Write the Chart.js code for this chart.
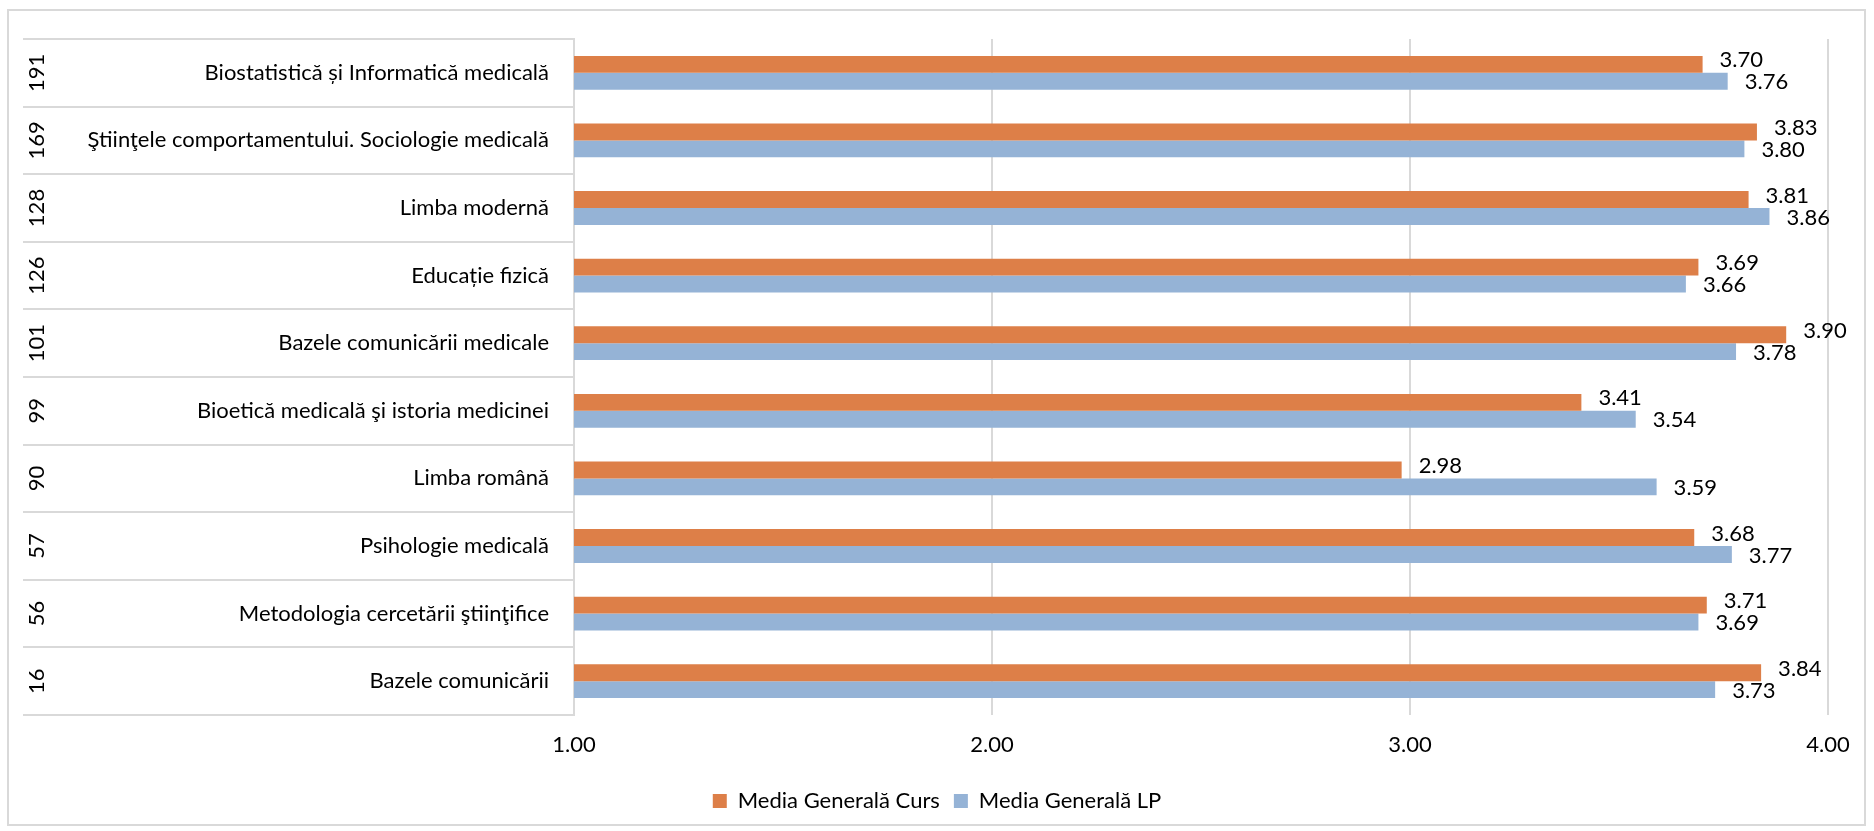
<!DOCTYPE html>
<html>
<head>
<meta charset="utf-8">
<script src="https://cdn.jsdelivr.net/npm/chart.js@4/dist/chart.umd.min.js"></script>
<style>
  html, body { margin: 0; padding: 0; background: #fff; }
  #wrap { position: relative; width: 1874px; height: 831px; }
</style>
</head>
<body>
<div id="wrap"><canvas id="chart"></canvas></div>
<script>
// Data (top to bottom, as in the picture)
const codes = ['191', '169', '128', '126', '101', '99', '90', '57', '56', '16'];
const subjects = [
  'Biostatistică și Informatică medicală',
  'Ştiinţele comportamentului. Sociologie medicală',
  'Limba modernă',
  'Educație fizică',
  'Bazele comunicării medicale',
  'Bioetică medicală şi istoria medicinei',
  'Limba română',
  'Psihologie medicală',
  'Metodologia cercetării ştiinţifice',
  'Bazele comunicării'
];
const mediaCurs = [3.70, 3.83, 3.81, 3.69, 3.90, 3.41, 2.98, 3.68, 3.71, 3.84];
const mediaLP = [3.76, 3.80, 3.86, 3.66, 3.78, 3.54, 3.59, 3.77, 3.69, 3.73];
const seriesNames = ['Media Generală Curs', 'Media Generală LP'];
const xMin = 1, xMax = 4, xStep = 1;

const FONT = 'Lato, "Open Sans", sans-serif';
const GRID = '#d9d9d9';

// outer frame, category box lines, rotated codes
const categoryBox = {
  id: 'categoryBox',
  beforeDraw(chart) {
    const ctx = chart.ctx;
    const y = chart.scales.y;
    const area = chart.chartArea;
    ctx.save();
    ctx.strokeStyle = GRID;
    ctx.lineWidth = 2;
    ctx.strokeRect(8, 10, 1857, 815);

    const half = (y.getPixelForValue(1) - y.getPixelForValue(0)) / 2;
    ctx.beginPath();
    for (let i = 0; i <= codes.length; i++) {
      const py = Math.round(y.getPixelForValue(i) - half);
      ctx.moveTo(23, py);
      ctx.lineTo(area.left, py);
    }
    ctx.stroke();

    ctx.fillStyle = '#000';
    ctx.font = '22px ' + FONT;
    ctx.textAlign = 'center';
    ctx.textBaseline = 'middle';
    codes.forEach((c, i) => {
      ctx.save();
      ctx.translate(37, y.getPixelForValue(i));
      ctx.rotate(-Math.PI / 2);
      ctx.fillText(c, 0, 0);
      ctx.restore();
    });
    ctx.restore();
  }
};

// value labels at the end of each bar
const valueLabels = {
  id: 'valueLabels',
  afterDatasetsDraw(chart) {
    const ctx = chart.ctx;
    ctx.save();
    ctx.fillStyle = '#000';
    ctx.font = '22px ' + FONT;
    ctx.textAlign = 'left';
    ctx.textBaseline = 'middle';
    chart.data.datasets.forEach((ds, di) => {
      chart.getDatasetMeta(di).data.forEach((bar, i) => {
        ctx.fillText(ds.data[i].toFixed(2), bar.x + 17, bar.y + (di === 0 ? -4 : 1));
      });
    });
    ctx.restore();
  }
};

new Chart(document.getElementById('chart'), {
  type: 'bar',
  data: {
    labels: subjects,
    datasets: [
      { label: seriesNames[0], data: mediaCurs, backgroundColor: '#dd7f48' },
      { label: seriesNames[1], data: mediaLP, backgroundColor: '#95b3d6' }
    ]
  },
  options: {
    indexAxis: 'y',
    responsive: true,
    maintainAspectRatio: false,
    animation: false,
    categoryPercentage: 0.5,
    barPercentage: 1.0,
    layout: { padding: { left: 46, right: 46, top: 39, bottom: 9 } },
    scales: {
      x: {
        min: xMin,
        max: xMax,
        afterFit: s => { s.height = 61; },
        ticks: {
          stepSize: xStep,
          padding: 17,
          color: '#000',
          font: { family: FONT, size: 22 },
          callback: v => v.toFixed(2)
        },
        grid: { color: GRID, lineWidth: 2, drawTicks: false },
        border: { display: false }
      },
      y: {
        afterFit: s => { s.width = 528; },
        ticks: {
          padding: 25,
          color: '#000',
          font: { family: FONT, size: 22 }
        },
        grid: { display: false, drawTicks: false },
        border: { display: true, color: GRID, width: 2 }
      }
    },
    plugins: {
      legend: {
        position: 'bottom',
        maxHeight: 50,
        labels: {
          boxWidth: 14,
          boxHeight: 14,
          padding: 14,
          color: '#000',
          font: { family: FONT, size: 22 }
        }
      },
      tooltip: { enabled: false }
    }
  },
  plugins: [categoryBox, valueLabels]
});
</script>
</body>
</html>
